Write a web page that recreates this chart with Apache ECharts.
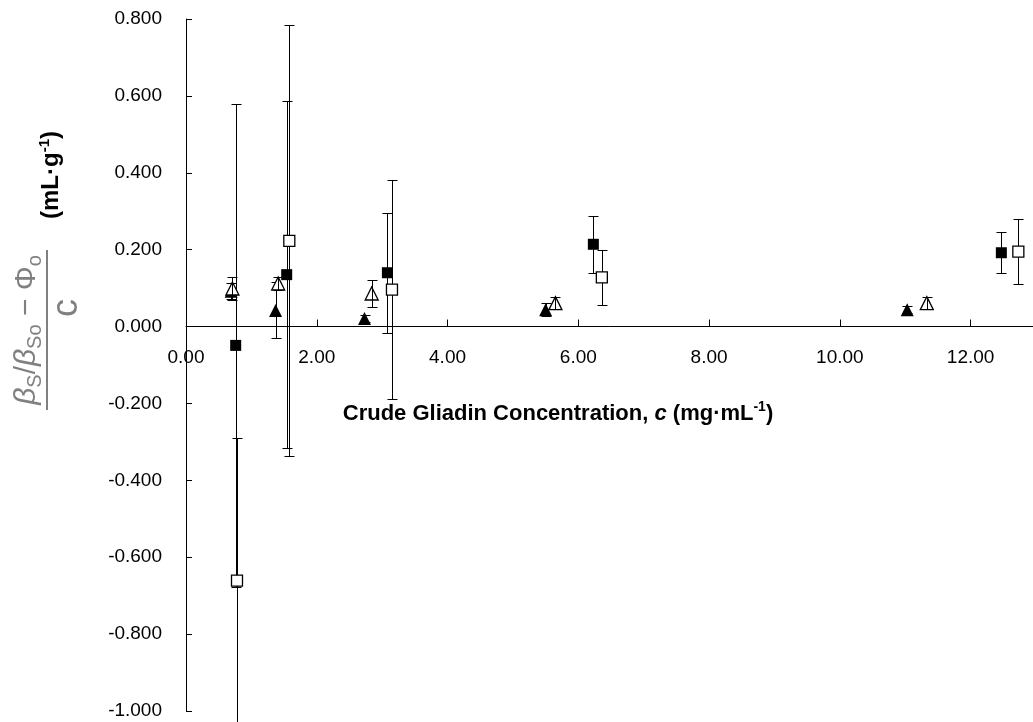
<!DOCTYPE html>
<html>
<head>
<meta charset="utf-8">
<script src="https://cdn.jsdelivr.net/npm/echarts@6/dist/echarts.min.js"></script>
<style>
  html, body { margin: 0; padding: 0; background: #fff; }
  #chart { width: 1033px; height: 722px; }
</style>
</head>
<body>
<div id="chart"></div>
<script>
// filled squares
const sqFilledX = [0.76, 1.54, 3.08, 6.23, 12.47];
const sqFilledY = [-0.049, 0.135, 0.140, 0.214, 0.192];
const sqFilledErr = [0.628, 0.452, 0.156, 0.074, 0.053];
// open squares
const sqOpenX = [0.78, 1.58, 3.15, 6.36, 12.73];
const sqOpenY = [-0.661, 0.223, 0.096, 0.128, 0.195];
const sqOpenErr = [0.371, 0.561, 0.284, 0.072, 0.084];
// filled triangles
const triFilledX = [0.69, 1.37, 2.73, 5.50, 11.03];
const triFilledY = [0.092, 0.042, 0.021, 0.044, 0.044];
const triFilledErr = [0.020, 0.073, 0.008, 0.017, 0.010];
// open triangles
const triOpenX = [0.71, 1.41, 2.84, 5.65, 11.33];
const triOpenY = [0.099, 0.112, 0.086, 0.061, 0.061];
const triOpenErr = [0.030, 0.016, 0.036, 0.016, 0.016];

const FONT = "'Liberation Sans', Arial, sans-serif";
const GREY = '#808080';

// plot box (y range -1 .. 0.8); the x axis is moved up to sit on y = 0
const Y_MIN = -1, Y_MAX = 0.8;
const GRID_TOP = 19, GRID_BOTTOM = 11, CHART_H = 722;
const plotH = CHART_H - GRID_TOP - GRID_BOTTOM;
const zeroOffset = -plotH * (0 - Y_MIN) / (Y_MAX - Y_MIN);

function pairs(xs, ys) {
    return xs.map((x, i) => [x, ys[i]]);
}

// vertical error bars with small caps
function errorBars(name, xs, ys, es, z) {
    return {
        name: name + ' err',
        type: 'custom',
        z: z,
        silent: true,
        data: xs.map((x, i) => [x, ys[i], es[i]]),
        encode: { x: 0, y: 1 },
        renderItem: function (params, api) {
            const x = api.value(0), y = api.value(1), e = api.value(2);
            const top = api.coord([x, y + e]);
            const bot = api.coord([x, y - e]);
            const cx = Math.round(top[0]) + 0.5;
            const t = Math.round(top[1]) + 0.5;
            const b = Math.round(bot[1]) + 0.5;
            const cap = 5;
            const style = { stroke: '#000', lineWidth: 1 };
            return {
                type: 'group',
                children: [
                    { type: 'line', shape: { x1: cx, y1: t, x2: cx, y2: b }, style: style },
                    { type: 'line', shape: { x1: cx - cap, y1: t, x2: cx + cap, y2: t }, style: style },
                    { type: 'line', shape: { x1: cx - cap, y1: b, x2: cx + cap, y2: b }, style: style }
                ]
            };
        }
    };
}

function markers(name, xs, ys, symbol, size, filled) {
    return {
        name: name,
        type: 'scatter',
        z: 3,
        symbol: symbol,
        symbolSize: size,
        data: pairs(xs, ys),
        itemStyle: {
            color: filled ? '#000' : '#fff',
            borderColor: '#000',
            borderWidth: filled ? 0 : 1.3,
            opacity: 1
        }
    };
}

echarts.init(document.getElementById('chart')).setOption({
    animation: false,
    backgroundColor: '#fff',
    grid: {
        left: 186, right: -3, top: GRID_TOP, bottom: GRID_BOTTOM,
        containLabel: false, outerBoundsMode: 'none'
    },
    xAxis: {
        type: 'value',
        min: 0,
        max: 13,
        interval: 2,
        offset: zeroOffset,
        axisLine: { onZero: false, lineStyle: { color: '#000', width: 1 } },
        axisTick: { inside: true, length: 7, lineStyle: { color: '#000' } },
        axisLabel: {
            margin: 22, fontSize: 19, color: '#000', fontFamily: FONT,
            showMaxLabel: false,
            formatter: v => v.toFixed(2)
        },
        splitLine: { show: false },
        name: 'Crude Gliadin Concentration, {i|c} (mg·mL{sup|-1})',
        nameLocation: 'middle',
        nameGap: 74,
        nameTextStyle: {
            fontSize: 22, fontWeight: 'bold', color: '#000', fontFamily: FONT,
            padding: [0, 106, 0, 0],
            lineHeight: 26,
            rich: {
                i: { fontSize: 22, fontWeight: 'bold', fontStyle: 'italic', fontFamily: FONT, lineHeight: 26 },
                sup: { fontSize: 14, fontWeight: 'bold', fontFamily: FONT, verticalAlign: 'top', lineHeight: 14 }
            }
        }
    },
    yAxis: {
        type: 'value',
        min: Y_MIN,
        max: Y_MAX,
        interval: 0.2,
        axisLine: { onZero: false, lineStyle: { color: '#000', width: 1 } },
        axisTick: { inside: true, length: 6, lineStyle: { color: '#000' } },
        axisLabel: {
            margin: 24, fontSize: 19, color: '#000', fontFamily: FONT,
            formatter: v => (Math.abs(v) < 1e-9 ? 0 : v).toFixed(3)
        },
        splitLine: { show: false }
    },
    graphic: [{
        type: 'group',
        x: 47,
        y: 330,
        rotation: Math.PI / 2,
        children: [
            { type: 'line', shape: { x1: -80, y1: 0, x2: 80, y2: 0 }, style: { stroke: GREY, lineWidth: 2 } },
            {
                type: 'text', x: 0, y: -2,
                style: {
                    text: '{b|β}{s|S}{n|/}{b|β}{s|So}{n| − Φ}{s|o}',
                    align: 'center', verticalAlign: 'bottom', fill: GREY,
                    rich: {
                        b: { fontSize: 30, fontStyle: 'italic', fontFamily: FONT, fill: GREY, lineHeight: 36 },
                        n: { fontSize: 30, fontFamily: FONT, fill: GREY, lineHeight: 36 },
                        s: { fontSize: 20, fontFamily: FONT, fill: GREY, verticalAlign: 'bottom', lineHeight: 20 }
                    }
                }
            },
            {
                type: 'text', x: 22, y: 2,
                style: { text: 'c', fontSize: 36, fontFamily: FONT, fill: GREY, align: 'center', verticalAlign: 'top' }
            },
            {
                type: 'text', x: 155, y: 4,
                style: {
                    text: '(mL·g{sup|-1})',
                    fontSize: 24, fontWeight: 'bold', fontFamily: FONT, fill: '#000',
                    align: 'center', verticalAlign: 'middle', lineHeight: 28,
                    rich: {
                        sup: { fontSize: 15, fontWeight: 'bold', fontFamily: FONT, fill: '#000', verticalAlign: 'top', lineHeight: 15 }
                    }
                }
            }
        ]
    }],
    series: [
        errorBars('sqFilled', sqFilledX, sqFilledY, sqFilledErr, 1),
        errorBars('sqOpen', sqOpenX, sqOpenY, sqOpenErr, 1),
        errorBars('triFilled', triFilledX, triFilledY, triFilledErr, 1),
        errorBars('triOpen', triOpenX, triOpenY, triOpenErr, 4),
        markers('sqFilled', sqFilledX, sqFilledY, 'rect', 11, true),
        markers('sqOpen', sqOpenX, sqOpenY, 'rect', 11, false),
        markers('triFilled', triFilledX, triFilledY, 'triangle', 13, true),
        markers('triOpen', triOpenX, triOpenY, 'triangle', 13, false)
    ]
});
</script>
</body>
</html>
